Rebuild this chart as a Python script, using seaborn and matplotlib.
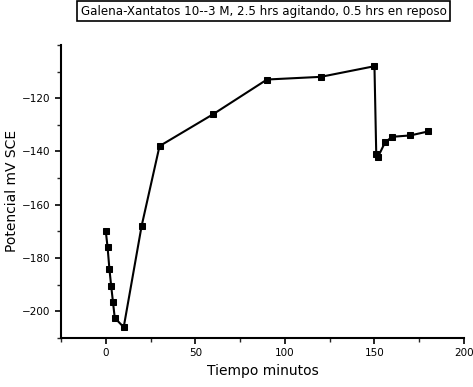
import matplotlib
matplotlib.use("Agg")
import matplotlib.pyplot as plt
import seaborn as sns
import pandas as pd
from matplotlib.ticker import MultipleLocator

tiempo = [0, 1, 2, 3, 4, 5, 10, 20, 30, 60, 90, 120, 150, 151, 152, 156, 160, 170, 180]
potencial = [-170, -176, -184, -190.5, -196.5, -202.5, -206, -168, -138, -126, -113, -112, -108,
             -141, -142, -136.5, -134.5, -134, -132.5]
title = "Galena-Xantatos 10--3 M, 2.5 hrs agitando, 0.5 hrs en reposo"
xlabel = "Tiempo minutos"
ylabel = "Potencial mV SCE"
xticks = [0, 50, 100, 150, 200]
yticks = [-120, -140, -160, -180, -200]

df = pd.DataFrame({"t": tiempo, "p": potencial})

sns.set_theme(style="ticks")
plt.rcParams['font.family'] = ['DejaVu Sans']

fig = plt.figure(figsize=(4.73, 3.87), dpi=100)
ax = fig.add_axes([0.129, 0.127, 0.852, 0.757])

sns.lineplot(data=df, x="t", y="p", ax=ax, color="black", linewidth=1.5,
             marker="s", markersize=5, markeredgecolor="black", markerfacecolor="black",
             sort=False)

ax.set_xlim(-25, 200)
ax.set_ylim(-210, -100)
ax.set_xticks(xticks)
ax.set_yticks(yticks)
ax.xaxis.set_minor_locator(MultipleLocator(25))
ax.yaxis.set_minor_locator(MultipleLocator(10))
ax.tick_params(axis="both", which="major", direction="out", length=4, width=1.2, labelsize=7.5, colors="black")
ax.tick_params(axis="both", which="minor", direction="out", length=3, width=1.0)
for s in ["top", "right"]:
    ax.spines[s].set_visible(False)
for s in ["left", "bottom"]:
    ax.spines[s].set_linewidth(1.5)
    ax.spines[s].set_color("black")

ax.set_xlabel(xlabel, fontsize=10, color="black", labelpad=4)
ax.set_ylabel(ylabel, fontsize=10, color="black", labelpad=2)

fig.text(0.557, 0.971, title, ha="center", va="center", fontsize=8.6, color="black",
         bbox=dict(boxstyle="square,pad=0.3", facecolor="white", edgecolor="black", linewidth=1.2))

fig.savefig("out.png", dpi=100)
